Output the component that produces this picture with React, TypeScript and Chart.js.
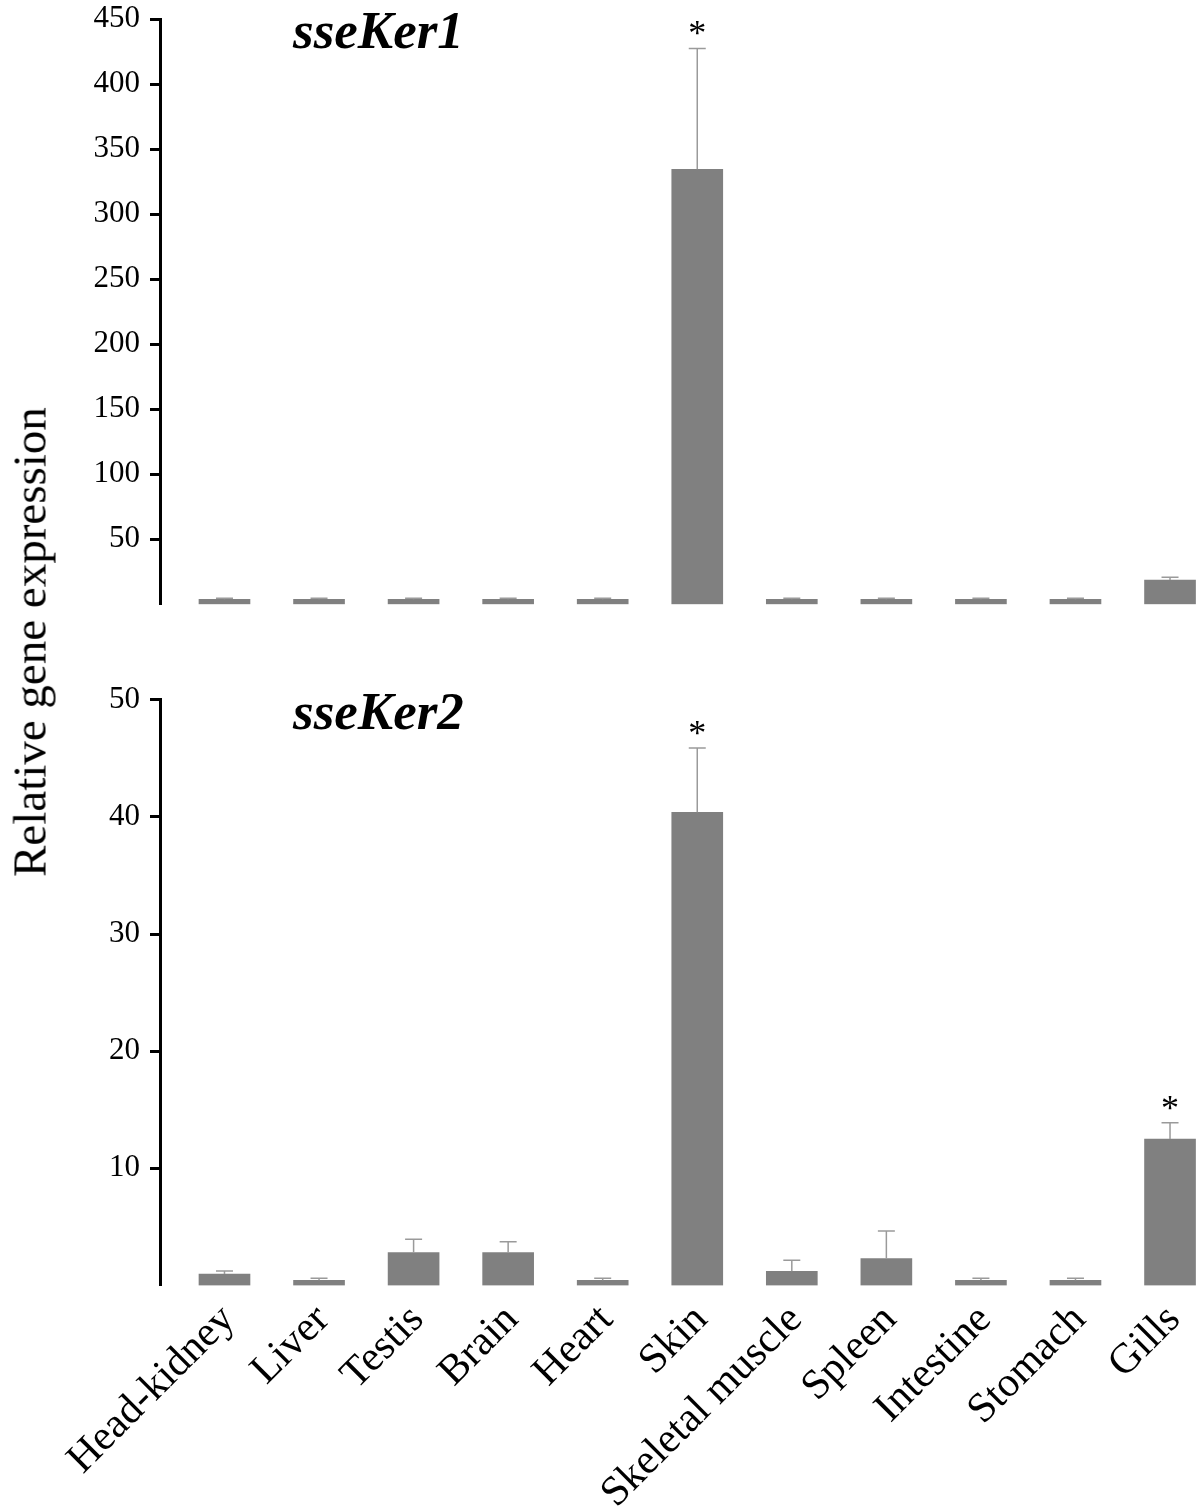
import React, { useEffect, useRef } from 'react';
import { Chart, registerables } from 'chart.js';

Chart.register(...registerables);

const CATEGORIES = [
  'Head-kidney', 'Liver', 'Testis', 'Brain', 'Heart', 'Skin',
  'Skeletal muscle', 'Spleen', 'Intestine', 'Stomach', 'Gills',
];

const KER1_VALUES = [3.9, 3.9, 3.9, 3.9, 3.9, 334.6, 3.9, 3.9, 3.9, 3.9, 18.7];
const KER1_ERRORS = [0.8, 0.8, 0.8, 0.8, 0.8, 93, 0.8, 0.8, 0.8, 0.8, 2.1];
const KER1_SIGNIFICANT = [false, false, false, false, false, true, false, false, false, false, false];
const KER1_TICKS = [50, 100, 150, 200, 250, 300, 350, 400, 450];

const KER2_VALUES = [0.97, 0.43, 2.8, 2.8, 0.43, 40.4, 1.2, 2.3, 0.43, 0.43, 12.5];
const KER2_ERRORS = [0.25, 0.17, 1.14, 0.93, 0.17, 5.5, 0.94, 2.35, 0.17, 0.17, 1.4];
const KER2_SIGNIFICANT = [false, false, false, false, false, true, false, false, false, false, true];
const KER2_TICKS = [10, 20, 30, 40, 50];

const SERIF = '"Liberation Serif", "Times New Roman", serif';

type PanelSpec = {
  title: string;
  values: number[];
  errors: number[];
  significant: boolean[];
  ticks: number[];
  yMax: number;
  showX: boolean;
  padTop: number;
  padBottom: number;
  xHeight: number;
};

function overlayPlugin(spec: PanelSpec) {
  return {
    id: 'overlay',
    afterDatasetsDraw(chart: any) {
      const { ctx, chartArea } = chart;
      const x = chart.scales.x;
      const y = chart.scales.y;
      ctx.save();
      spec.values.forEach((v, i) => {
        const px = x.getPixelForValue(i);
        const top = y.getPixelForValue(v);
        const et = y.getPixelForValue(v + spec.errors[i]);
        ctx.strokeStyle = '#9a9a9a';
        ctx.lineWidth = 1.5;
        ctx.beginPath();
        ctx.moveTo(px, top);
        ctx.lineTo(px, et);
        ctx.moveTo(px - 8.5, et);
        ctx.lineTo(px + 8.5, et);
        ctx.stroke();
        if (spec.significant[i]) {
          ctx.fillStyle = '#000';
          ctx.font = `36px ${SERIF}`;
          ctx.textAlign = 'center';
          ctx.textBaseline = 'alphabetic';
          ctx.fillText('*', px, et - 3);
        }
      });
      ctx.fillStyle = '#000';
      ctx.font = `italic bold 53px ${SERIF}`;
      ctx.textAlign = 'left';
      ctx.textBaseline = 'alphabetic';
      ctx.fillText(spec.title, chartArea.left + 133, chartArea.top + 29);
      ctx.restore();
    },
  };
}

function Panel({ spec, top, height }: { spec: PanelSpec; top: number; height: number }) {
  const ref = useRef<HTMLCanvasElement | null>(null);
  useEffect(() => {
    if (!ref.current) return;
    const chart = new Chart(ref.current, {
      type: 'bar',
      data: {
        datasets: [
          {
            data: spec.values.map((v, i) => ({ x: i, y: v })),
            backgroundColor: '#808080',
            borderWidth: 0,
            barThickness: 51,
          },
        ],
      },
      options: {
        responsive: false,
        animation: false,
        events: [],
        layout: { padding: { top: spec.padTop, bottom: spec.padBottom, left: 0, right: 0 } },
        plugins: { legend: { display: false }, tooltip: { enabled: false }, title: { display: false } },
        scales: {
          x: {
            type: 'linear',
            display: spec.showX,
            offset: false,
            min: -0.682,
            max: 10.317,
            grid: { display: false, drawTicks: false, offset: false },
            border: { display: false },
            afterBuildTicks: (s: any) => {
              s.ticks = CATEGORIES.map((_, i) => ({ value: i }));
            },
            afterFit: (s: any) => {
              s.paddingLeft = 0;
              s.paddingRight = 0;
              s.height = spec.xHeight;
            },
            ticks: {
              autoSkip: false,
              minRotation: 45,
              maxRotation: 45,
              padding: 10,
              labelOffset: 4,
              color: '#000',
              font: { family: SERIF, size: 42 },
              callback: (value: any) => CATEGORIES[Math.round(Number(value))] ?? '',
            },
          },
          y: {
            type: 'linear',
            min: 0,
            max: spec.yMax,
            afterBuildTicks: (s: any) => {
              s.ticks = spec.ticks.map((v) => ({ value: v }));
            },
            afterFit: (s: any) => {
              s.width = 160;
              s.paddingTop = 0;
              s.paddingBottom = 0;
            },
            grid: {
              drawOnChartArea: false,
              drawTicks: true,
              tickLength: 10,
              tickWidth: 3,
              tickColor: '#000',
              color: '#000',
            },
            border: { display: true, color: '#000', width: 3 },
            ticks: {
              padding: 10,
              color: '#000',
              font: { family: SERIF, size: 31 },
            },
          },
        },
      },
      plugins: [overlayPlugin(spec)],
    } as any);
    return () => chart.destroy();
  }, [spec]);
  return (
    <canvas
      ref={ref}
      width={1200}
      height={height}
      style={{ position: 'absolute', left: 0, top, width: 1200, height }}
    />
  );
}

const TOP_SPEC: PanelSpec = {
  title: 'sseKer1',
  values: KER1_VALUES,
  errors: KER1_ERRORS,
  significant: KER1_SIGNIFICANT,
  ticks: KER1_TICKS,
  yMax: 450,
  showX: false,
  padTop: 19.3,
  padBottom: 45.7,
  xHeight: 0,
};

const BOTTOM_SPEC: PanelSpec = {
  title: 'sseKer2',
  values: KER2_VALUES,
  errors: KER2_ERRORS,
  significant: KER2_SIGNIFICANT,
  ticks: KER2_TICKS,
  yMax: 50,
  showX: true,
  padTop: 49.9,
  padBottom: 0,
  xHeight: 225.6,
};

export default function App() {
  return (
    <div style={{ position: 'absolute', left: 0, top: 0, width: 1200, height: 1511, background: '#fff', overflow: 'hidden' }}>
      <Panel spec={TOP_SPEC} top={0} height={650} />
      <Panel spec={BOTTOM_SPEC} top={650} height={861} />
      <div
        style={{
          position: 'absolute',
          left: 30,
          top: 642,
          transform: 'translate(-50%, -50%) rotate(-90deg)',
          whiteSpace: 'nowrap',
          fontFamily: SERIF,
          fontSize: 47,
          color: '#000',
          lineHeight: 1,
        }}
      >
        Relative gene expression
      </div>
    </div>
  );
}
